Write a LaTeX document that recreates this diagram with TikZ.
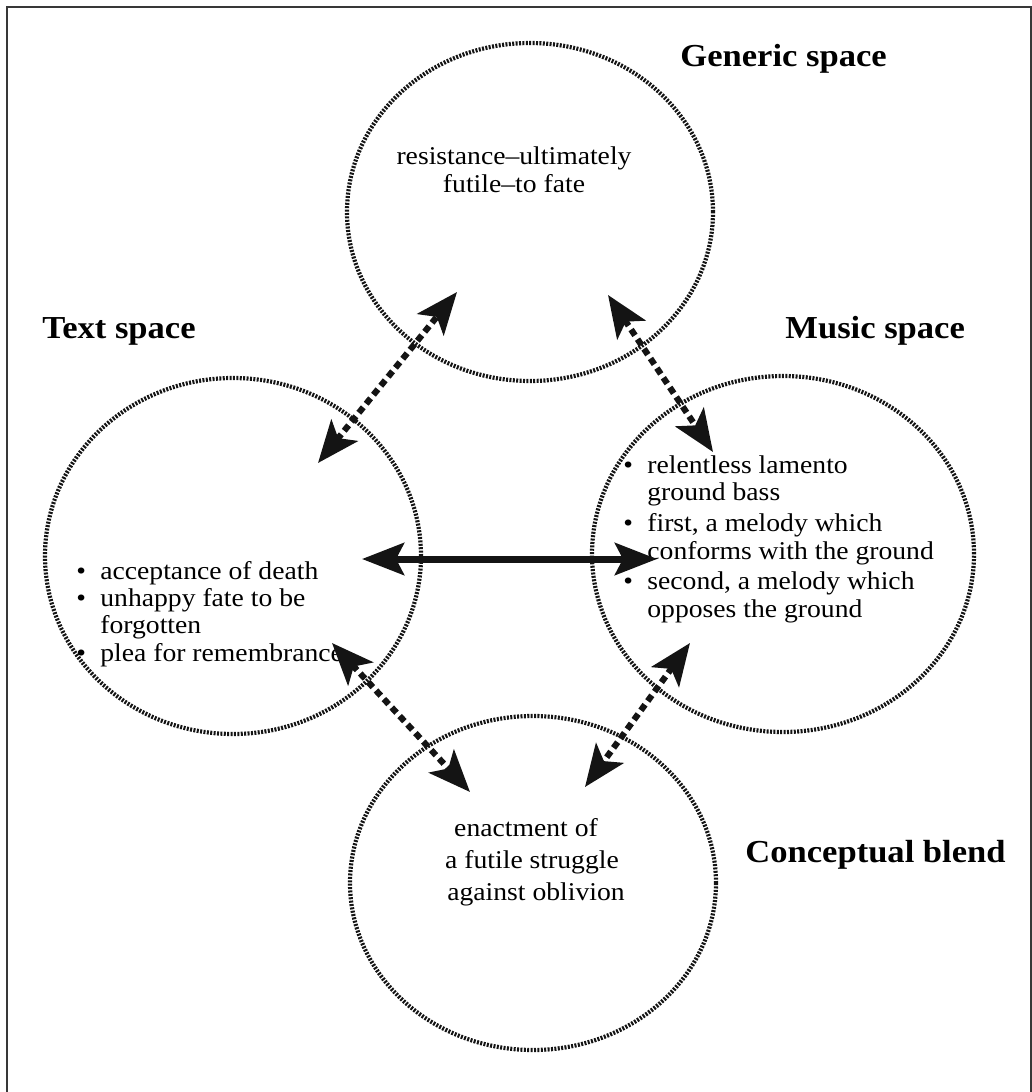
\documentclass[tikz,border=0pt]{standalone}
\usepackage{fontspec}
\setmainfont{Liberation Serif}[FakeStretch=1.08]
\usetikzlibrary{arrows.meta,shapes.geometric}
\begin{document}
\begin{tikzpicture}[x=0.5pt,y=-0.5pt,
  space/.style={ellipse, draw=black!92, line width=2.1pt, dash pattern=on 1pt off 0.7pt, inner sep=0pt},
  title/.style={font=\bfseries\fontsize{16}{19}\selectfont, inner sep=0pt, anchor=base west},
  body/.style={font=\fontsize{12.8}{14}\selectfont, inner sep=0pt},
  bl/.style={body, anchor=base west},
  bc/.style={body, anchor=base},
  tipd/.tip={Stealth[length=21pt,width=17pt,inset=5pt]},
  maplink/.style={line width=3.1pt, black!92, dash pattern=on 3.5pt off 2.3pt, tipd-tipd},
  solidlink/.style={line width=3.5pt, black!92, {Stealth[length=21pt,width=16pt,inset=4pt]}-{Stealth[length=21pt,width=16pt,inset=4pt]}},
  frame/.style={line width=1pt, black!78}
]
\useasboundingbox (0,0) rectangle (1032,1092);
\draw[frame] (7,1092) -- (7,7) -- (1031,7) -- (1031,1092);

% spaces
\node[space, minimum width=183pt, minimum height=169pt] (gen) at (530,212) {};
\node[space, minimum width=188pt, minimum height=178pt] (txt) at (233,556) {};
\node[space, minimum width=191pt, minimum height=178pt] (mus) at (783,554) {};
\node[space, minimum width=183pt, minimum height=167pt] (bln) at (533,883) {};

% titles
\node[title] (tgen) at (680,66) {Generic space};
\node[title] (ttxt) at (42,338) {Text space};
\node[title] (tmus) at (785,338) {Music space};
\node[title] (tbln) at (745,862) {Conceptual blend};

% generic text
\node[bc] (g1) at (514,164) {resistance–ultimately};
\node[bc] (g2) at (514,192) {futile–to fate};

% text space items
\node[bl] (t1) at (76,579) {\makebox[12pt][l]{\textbullet}acceptance of death};
\node[bl] (t2) at (76,606) {\makebox[12pt][l]{\textbullet}unhappy fate to be};
\node[bl] (t3) at (76,633) {\hspace*{12pt}forgotten};
\node[bl] (t4) at (76,661) {\makebox[12pt][l]{\textbullet}plea for remembrance};

% music space items
\node[bl] (m1) at (623,473) {\makebox[12pt][l]{\textbullet}relentless lamento};
\node[bl] (m2) at (623,500) {\hspace*{12pt}ground bass};
\node[bl] (m3) at (623,531) {\makebox[12pt][l]{\textbullet}first, a melody which};
\node[bl] (m4) at (623,559) {\hspace*{12pt}conforms with the ground};
\node[bl] (m5) at (623,589) {\makebox[12pt][l]{\textbullet}second, a melody which};
\node[bl] (m6) at (623,617) {\hspace*{12pt}opposes the ground};

% blend text
\node[bc] (b1) at (526,836) {enactment of};
\node[bc] (b2) at (532,868) {a futile struggle};
\node[bc] (b3) at (536,900) {against oblivion};

% connector ends
\coordinate (tg1) at (318,463);
\coordinate (tg2) at (457,292);
\coordinate (gm1) at (608,295);
\coordinate (gm2) at (713,452);
\coordinate (tb1) at (332,643);
\coordinate (tb2) at (470,792);
\coordinate (mb1) at (690,643);
\coordinate (mb2) at (585,787);
\coordinate (tm1) at (362,559);
\coordinate (tm2) at (657,559);

\draw[maplink] (tg1) -- (tg2);
\draw[maplink] (gm1) -- (gm2);
\draw[maplink] (tb1) -- (tb2);
\draw[maplink] (mb1) -- (mb2);
\draw[solidlink] (tm1) -- (tm2);
\end{tikzpicture}
\end{document}
